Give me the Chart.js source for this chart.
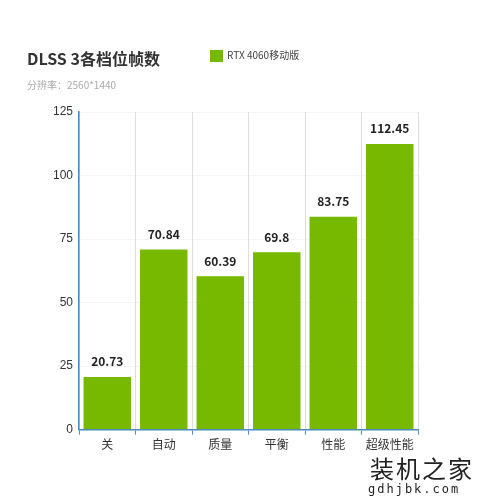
<!DOCTYPE html>
<html>
<head>
<meta charset="utf-8">
<script src="https://cdn.jsdelivr.net/npm/chart.js@4"></script>
<style>
  body { margin: 0; background: #fff; font-family: "Noto Sans CJK SC", sans-serif; }
  #wrap { position: relative; width: 500px; height: 500px; }
  #title { position: absolute; left: 27px; top: 46px; font-size: 16px; font-weight: bold; color: #333; }
  #sub { position: absolute; left: 27px; top: 77px; font-size: 10px; color: #aaa; }
  #legend { position: absolute; left: 210px; top: 47px; font-size: 10px; color: #444; }
  #legend span { display: inline-block; width: 13px; height: 12px; background: #76b900; vertical-align: middle; margin-right: 4px; }
  #wm1 { position: absolute; left: 370px; top: 450px; font-size: 24px; color: #222; letter-spacing: 2px; }
  #wm2 { position: absolute; left: 368px; top: 482px; font-size: 12px; font-family: "DejaVu Sans Mono"; color: #222; letter-spacing: 2px; }
  canvas { position: absolute; left: 0; top: 0; }
</style>
</head>
<body>
<div id="wrap">
  <canvas id="chart" width="500" height="500"></canvas>
  <div id="title">DLSS 3各档位帧数</div>
  <div id="sub">分辨率：2560*1440</div>
  <div id="legend"><span></span>RTX 4060移动版</div>
  <div id="wm1">装机之家</div>
  <div id="wm2">gdhjbk.com</div>
</div>
<script>
  // 数据
  const categories = ['关', '自动', '质量', '平衡', '性能', '超级性能'];
  const fps = [20.73, 70.84, 60.39, 69.8, 83.75, 112.45];
  const fpsLabels = ['20.73', '70.84', '60.39', '69.8', '83.75', '112.45'];

  // 柱顶数值
  const valueLabels = {
    id: 'valueLabels',
    afterDatasetsDraw(chart) {
      const ctx = chart.ctx;
      ctx.save();
      ctx.font = 'bold 12px "Noto Sans CJK SC"';
      ctx.fillStyle = '#222';
      ctx.textAlign = 'center';
      ctx.textBaseline = 'bottom';
      chart.getDatasetMeta(0).data.forEach((bar, i) => {
        ctx.fillText(fpsLabels[i], bar.x, bar.y - 9);
      });
      ctx.restore();
    }
  };

  new Chart(document.getElementById('chart').getContext('2d'), {
    type: 'bar',
    data: {
      labels: categories,
      datasets: [{
        label: 'RTX 4060移动版',
        data: fps,
        backgroundColor: '#76b900',
        categoryPercentage: 0.84,
        barPercentage: 1
      }]
    },
    options: {
      responsive: false,
      animation: false,
      layout: { padding: { left: 47, right: 82, top: 112, bottom: 45 } },
      scales: {
        y: {
          min: 0, max: 125,
          ticks: { stepSize: 25, color: '#333', font: { size: 12 }, padding: 6 },
          grid: { color: '#f4f4f4', drawTicks: false },
          border: { color: '#4a8bc2', width: 1.5 }
        },
        x: {
          ticks: { color: '#333', font: { size: 12, family: 'Noto Sans CJK SC' } },
          grid: { offset: true, color: '#ddd', tickColor: '#4a8bc2', tickLength: 5 },
          border: { color: '#4a8bc2', width: 1.5 }
        }
      },
      plugins: { legend: { display: false }, tooltip: { enabled: false } }
    },
    plugins: [valueLabels]
  });
</script>
</body>
</html>
